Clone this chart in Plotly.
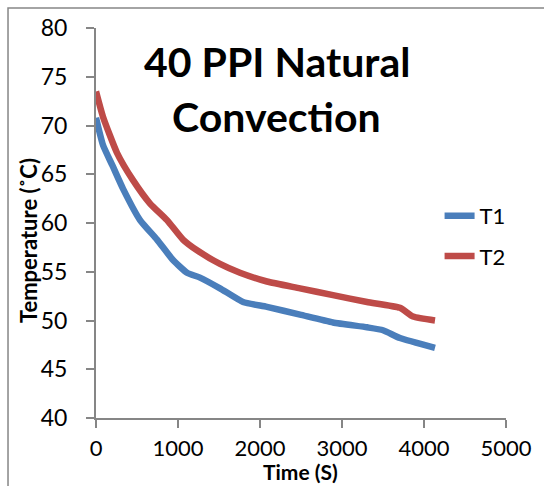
import plotly.graph_objects as go

# Time (s) and temperature (°C) readings for the two thermocouples
time_t1 = [0, 85, 200, 330, 537, 744, 939, 1110, 1268, 1512, 1793, 2085, 2488, 2890, 3305, 3500, 3707, 4134]
temp_t1 = [70.8, 68.0, 65.9, 63.5, 60.3, 58.3, 56.2, 54.9, 54.4, 53.3, 51.9, 51.4, 50.6, 49.8, 49.3, 49.0, 48.2, 47.2]

time_t2 = [0, 85, 256, 451, 659, 866, 1061, 1232, 1512, 1756, 2085, 2488, 2890, 3305, 3707, 3866, 4134]
temp_t2 = [73.5, 70.9, 67.2, 64.4, 62.0, 60.3, 58.3, 57.2, 55.8, 54.9, 54.0, 53.3, 52.6, 51.9, 51.3, 50.4, 50.0]

x_ticks = [0, 1000, 2000, 3000, 4000, 5000]
y_ticks = [40, 45, 50, 55, 60, 65, 70, 75, 80]

FONT = "Lato"
AXIS_GREY = "#868686"

fig = go.Figure()
fig.add_trace(go.Scatter(x=time_t1, y=temp_t1, name="T1", mode="lines", legend="legend",
                         line=dict(color="#4A7EBB", width=6.5, shape="spline", smoothing=0.5)))
fig.add_trace(go.Scatter(x=time_t2, y=temp_t2, name="T2", mode="lines", legend="legend2",
                         line=dict(color="#BE4B48", width=6.5, shape="spline", smoothing=0.5)))

legend_style = dict(xanchor="left", yanchor="middle", font=dict(size=22, family=FONT),
                    bgcolor="rgba(0,0,0,0)", borderwidth=0)

fig.update_layout(
    width=544, height=486,
    margin=dict(l=96, r=38, t=28, b=68),
    paper_bgcolor="white", plot_bgcolor="white",
    font=dict(family=FONT, color="black", size=23),
    showlegend=True,
    legend=dict(x=0.838, y=0.518, **legend_style),
    legend2=dict(x=0.838, y=0.415, **legend_style),
    xaxis=dict(range=[0, 5000], tickvals=x_ticks, showgrid=False, zeroline=False,
               showline=True, linecolor=AXIS_GREY, linewidth=2,
               ticks="outside", ticklen=8, tickcolor=AXIS_GREY, tickwidth=2,
               tickfont=dict(size=22), ticklabelstandoff=2),
    yaxis=dict(range=[40, 80], tickvals=y_ticks, showgrid=False, zeroline=False,
               showline=True, linecolor=AXIS_GREY, linewidth=2,
               ticks="outside", ticklen=8, tickcolor=AXIS_GREY, tickwidth=2,
               tickfont=dict(size=23), ticklabelstandoff=14),
    annotations=[
        dict(text="<b>40 PPI Natural</b>", xref="paper", yref="paper",
             x=0.441, y=0.915, xanchor="center", yanchor="middle", showarrow=False,
             font=dict(size=41, family=FONT)),
        dict(text="<b>Convection</b>", xref="paper", yref="paper",
             x=0.441, y=0.772, xanchor="center", yanchor="middle", showarrow=False,
             font=dict(size=41, family=FONT)),
        dict(text="<b>Time (S)</b>", xref="paper", yref="paper",
             x=0.4976, y=-0.174, xanchor="center", yanchor="bottom", showarrow=False,
             font=dict(size=21, family=FONT)),
        dict(text="<b>Temperature (˚C)</b>", xref="paper", yref="paper", textangle=-90,
             x=-0.166, y=0.456, xanchor="center", yanchor="middle", showarrow=False,
             font=dict(size=22, family=FONT)),
    ],
    shapes=[dict(type="rect", xref="paper", yref="paper",
                 x0=-0.2146, y0=-1.0, x1=2.0, y1=1.0513,
                 line=dict(color=AXIS_GREY, width=1.5), fillcolor="rgba(0,0,0,0)", layer="below")],
)

fig.write_html("out.html")
